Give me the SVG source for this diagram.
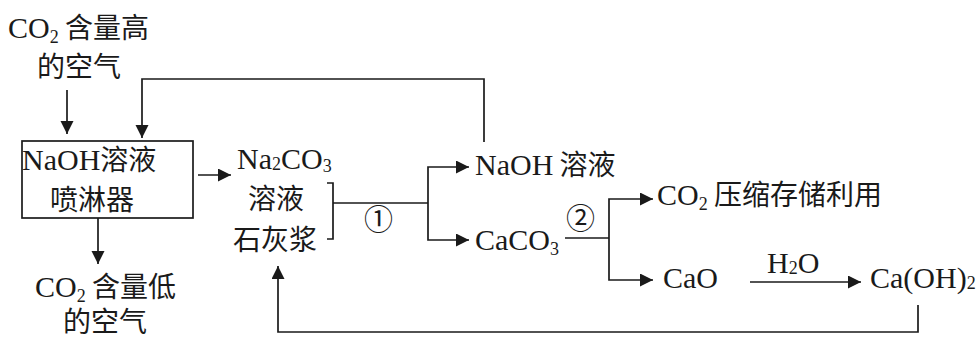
<svg xmlns="http://www.w3.org/2000/svg" width="978" height="340" viewBox="0 0 978 340">
<style>
.t{font-family:"Liberation Serif","Noto Sans CJK SC",serif;font-size:30px;fill:#1a1a1a}
.k{font-family:"Noto Sans CJK SC",sans-serif;font-size:28px}
.s{font-size:18px}
.c{font-family:"Noto Sans CJK SC","DejaVu Sans",sans-serif;font-size:29px;fill:#1a1a1a}
.ln{fill:none;stroke:#1a1a1a;stroke-width:1.7}
.ar{marker-end:url(#ah)}
</style>
<defs>
<marker id="ah" markerUnits="userSpaceOnUse" markerWidth="14" markerHeight="14" refX="13" refY="6.5" orient="auto">
<path d="M0,0 L13,6.5 L0,13 z" fill="#1a1a1a"/>
</marker>
</defs>
<rect width="978" height="340" fill="#fff"/>
<g id="connectors">
<path class="ln ar" d="M67,90 V134"/>
<path class="ln ar" d="M484,142 V79 H142 V138"/>
<path class="ln ar" d="M198,175 H231"/>
<path class="ln ar" d="M98,218 V264"/>
<path class="ln" d="M327,183 H333 V239 H327"/>
<path class="ln" d="M333,203 H428"/>
<path class="ln ar" d="M428,203 V167 H469"/>
<path class="ln ar" d="M428,203 V240 H469"/>
<path class="ln" d="M565,238 H609"/>
<path class="ln ar" d="M609,238 V199 H653"/>
<path class="ln ar" d="M609,238 V280 H653"/>
<path class="ln ar" d="M750,282 H861"/>
<path class="ln ar" d="M918,305 V332 H278 V266"/>
</g>
<g id="air-high">
<text class="t" x="8" y="38">CO<tspan class="s" dy="5">2</tspan><tspan class="k" dy="-5"> 含量高</tspan></text>
<text class="t k" x="37" y="77">的空气</text>
</g>
<g id="sprayer">
<rect x="22" y="141" width="171" height="77" fill="none" stroke="#1a1a1a" stroke-width="1.7"/>
<text class="t" x="22" y="170">NaOH<tspan class="k">溶液</tspan></text>
<text class="t k" x="50" y="210">喷淋器</text>
</g>
<g id="air-low">
<text class="t" x="35" y="297">CO<tspan class="s" dy="5">2</tspan><tspan class="k" dy="-5"> 含量低</tspan></text>
<text class="t k" x="63" y="332">的空气</text>
</g>
<g id="na2co3">
<text class="t" x="237" y="169">Na<tspan class="s" dy="1">2</tspan><tspan dy="-1">CO</tspan><tspan class="s" dy="3">3</tspan></text>
<text class="t k" x="248" y="209">溶液</text>
</g>
<g id="lime">
<text class="t k" x="233" y="250">石灰浆</text>
</g>
<g id="step1"><text class="c" x="364" y="230">①</text></g>
<g id="naoh">
<text class="t" x="475" y="175">NaOH<tspan class="k"> 溶液</tspan></text>
</g>
<g id="caco3">
<text class="t" x="475" y="250">CaCO<tspan class="s" dy="5">3</tspan></text>
</g>
<g id="step2"><text class="c" x="566" y="229">②</text></g>
<g id="co2">
<text class="t" x="657" y="205">CO<tspan class="s" dy="5">2</tspan><tspan class="k" dy="-5"> 压缩存储利用</tspan></text>
</g>
<g id="cao"><text class="t" x="663" y="288">CaO</text></g>
<g id="h2o"><text class="t" x="767" y="273">H<tspan class="s" dy="1">2</tspan><tspan dy="-1">O</tspan></text></g>
<g id="caoh2"><text class="t" x="870" y="288">Ca(OH)<tspan class="s" dy="1">2</tspan></text></g>
</svg>
